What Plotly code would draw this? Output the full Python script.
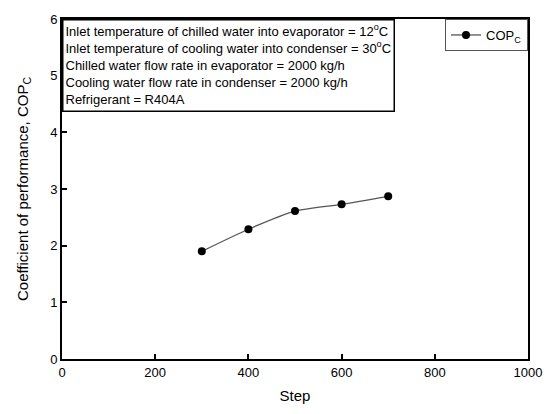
import plotly.graph_objects as go

steps = [300, 400, 500, 600, 700]
cop_c = [1.90, 2.29, 2.61, 2.73, 2.87]
x_ticks = [0, 200, 400, 600, 800, 1000]
y_ticks = [0, 1, 2, 3, 4, 5, 6]
info_lines = [
    "Inlet temperature of chilled water into evaporator = 12<sup>o</sup>C",
    "Inlet temperature of cooling water into condenser = 30<sup>o</sup>C",
    "Chilled water flow rate in evaporator = 2000 kg/h",
    "Cooling water flow rate in condenser = 2000 kg/h",
    "Refrigerant = R404A",
]

fig = go.Figure()
fig.add_trace(go.Scatter(
    x=steps, y=cop_c, mode="lines+markers", name="COP<sub>C</sub>",
    line=dict(color="#555555", width=1.3, shape="spline", smoothing=0.6),
    marker=dict(color="black", size=8),
))

axis_common = dict(
    showline=True, linecolor="black", linewidth=2, mirror=True,
    ticks="inside", ticklen=5, tickwidth=2, tickcolor="black",
    showgrid=False, zeroline=False,
    tickfont=dict(family="Liberation Sans, Arial", size=13, color="black"),
)
fig.update_xaxes(range=[0, 1000], tickvals=x_ticks,
                 title=dict(text="Step", font=dict(family="Liberation Sans, Arial", size=15, color="black"), standoff=12),
                 **axis_common)
fig.update_yaxes(range=[0, 6], tickvals=y_ticks,
                 title=dict(text="Coefficient of performance, COP<sub>C</sub>",
                            font=dict(family="Liberation Sans, Arial", size=15, color="black"), standoff=18),
                 **axis_common)

fig.add_annotation(
    xref="paper", yref="paper", x=0, y=1, xanchor="left", yanchor="top",
    text="<br>".join(info_lines), align="left", showarrow=False,
    font=dict(family="Liberation Sans, Arial", size=13, color="black"),
    bordercolor="black", borderwidth=1.5, borderpad=2, bgcolor="white",
    width=326, height=86, valign="top",
)

fig.update_layout(
    width=554, height=414,
    margin=dict(l=62, r=22, t=17, b=51),
    paper_bgcolor="white", plot_bgcolor="white",
    showlegend=True,
    legend=dict(x=1, y=1, xanchor="right", yanchor="top",
                bordercolor="#555555", borderwidth=1, bgcolor="white",
                font=dict(family="Liberation Sans, Arial", size=13, color="black"),
                itemwidth=30),
)

fig.write_html("out.html")
